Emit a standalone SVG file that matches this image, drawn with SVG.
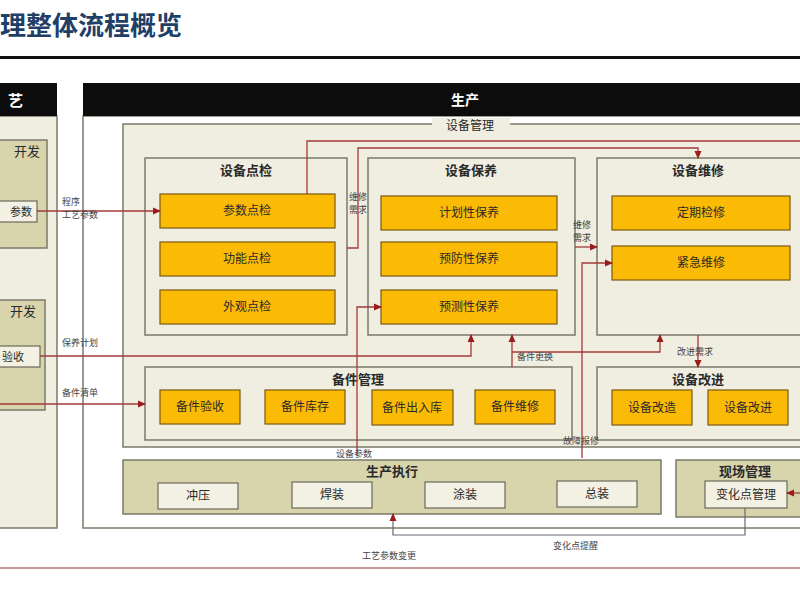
<svg xmlns="http://www.w3.org/2000/svg" width="800" height="600" viewBox="0 0 800 600">
<defs>
<marker id="ah" markerWidth="8" markerHeight="8" refX="7" refY="4" orient="auto" markerUnits="userSpaceOnUse"><path d="M0,0.5 L8,4 L0,7.5 Z" fill="#9b1c1c"/></marker>
<style>
text{font-family:"Noto Sans CJK SC","Noto Sans",sans-serif;fill:#2a2a2a}
.box{fill:#f0eee0;stroke:#7a7a6a;stroke-width:1.5}
.olive{fill:#d8d5ad;stroke:#7a7a6a;stroke-width:1.5}
.item{fill:#fbbb05;stroke:#7a5a10;stroke-width:1.2}
.lite{fill:#f3f1e4;stroke:#6a6a5a;stroke-width:1.2}
.t{font-size:13px;text-anchor:middle;font-weight:bold}
.it{font-size:12px;text-anchor:middle}
.lb{font-size:9px;fill:#444}
.c{fill:none;stroke:#a33a3a;stroke-width:1.3}
.hdr{fill:#0c0c0c}
</style>
</defs>
<rect width="800" height="600" fill="#ffffff"/>
<text x="0" y="35" style="font-size:26px;fill:#1f3f66;font-weight:bold">理整体流程概览</text>
<rect x="0" y="56" width="800" height="3" fill="#111"/>

<g id="left">
<rect x="-5" y="116" width="62" height="412" class="box"/>
<rect x="-5" y="83" width="62" height="33" class="hdr"/>
<text x="8" y="106" style="font-size:15px;fill:#fff;font-weight:bold">艺</text>
<rect x="-5" y="140" width="52" height="108" class="olive"/>
<text x="14" y="156" style="font-size:13px">开发</text>
<rect x="-5" y="201" width="42" height="21" class="lite"/>
<text x="10" y="216" style="font-size:11px">参数</text>
<rect x="-5" y="300" width="50" height="110" class="olive"/>
<text x="10" y="316" style="font-size:13px">开发</text>
<rect x="-5" y="346" width="45" height="21" class="lite"/>
<text x="2" y="361" style="font-size:11px">验收</text>
</g>

<g id="production">
<rect x="83" y="116" width="722" height="412" fill="#ffffff" stroke="#7a7a6a" stroke-width="1.5"/>
<rect x="83" y="83" width="722" height="33" class="hdr"/>
<text x="465" y="105" style="font-size:14px;fill:#fff;font-weight:bold;text-anchor:middle">生产</text>
</g>

<g id="equip-mgmt">
<rect x="123" y="124" width="682" height="323" class="box"/>
<rect x="432" y="118" width="78" height="14" fill="#f0eee0"/>
<text x="470" y="130" style="font-size:12px;text-anchor:middle">设备管理</text>
</g>

<g id="inspect">
<rect x="145" y="158" width="202" height="177" class="box"/>
<text x="246" y="175" class="t">设备点检</text>
<rect x="160" y="194" width="175" height="34" class="item"/><text x="247" y="215" class="it">参数点检</text>
<rect x="160" y="242" width="175" height="34" class="item"/><text x="247" y="263" class="it">功能点检</text>
<rect x="160" y="290" width="175" height="34" class="item"/><text x="247" y="311" class="it">外观点检</text>
</g>

<g id="maintain">
<rect x="368" y="158" width="207" height="177" class="box"/>
<text x="471" y="175" class="t">设备保养</text>
<rect x="381" y="196" width="176" height="34" class="item"/><text x="469" y="217" class="it">计划性保养</text>
<rect x="381" y="242" width="176" height="34" class="item"/><text x="469" y="263" class="it">预防性保养</text>
<rect x="381" y="290" width="176" height="34" class="item"/><text x="469" y="311" class="it">预测性保养</text>
</g>

<g id="repair">
<rect x="597" y="158" width="208" height="177" class="box"/>
<text x="698" y="175" class="t">设备维修</text>
<rect x="612" y="196" width="178" height="34" class="item"/><text x="701" y="217" class="it">定期检修</text>
<rect x="612" y="246" width="178" height="34" class="item"/><text x="701" y="267" class="it">紧急维修</text>
</g>

<g id="spares">
<rect x="145" y="367" width="427" height="73" class="box"/>
<text x="358" y="384" class="t">备件管理</text>
<rect x="160" y="390" width="80" height="34" class="item"/><text x="200" y="411" class="it">备件验收</text>
<rect x="265" y="390" width="80" height="34" class="item"/><text x="305" y="411" class="it">备件库存</text>
<rect x="372" y="390" width="81" height="35" class="item"/><text x="412" y="412" class="it">备件出入库</text>
<rect x="475" y="390" width="80" height="34" class="item"/><text x="515" y="411" class="it">备件维修</text>
</g>

<g id="improve">
<rect x="597" y="367" width="208" height="73" class="box"/>
<text x="698" y="384" class="t">设备改进</text>
<rect x="612" y="390" width="80" height="35" class="item"/><text x="652" y="412" class="it">设备改造</text>
<rect x="708" y="390" width="80" height="35" class="item"/><text x="748" y="412" class="it">设备改进</text>
</g>

<g id="exec">
<rect x="123" y="460" width="538" height="54" class="olive"/>
<text x="392" y="476" class="t">生产执行</text>
<rect x="158" y="483" width="80" height="26" class="lite"/><text x="198" y="500" class="it">冲压</text>
<rect x="292" y="482" width="80" height="26" class="lite"/><text x="332" y="499" class="it">焊装</text>
<rect x="425" y="482" width="80" height="26" class="lite"/><text x="465" y="499" class="it">涂装</text>
<rect x="557" y="481" width="80" height="26" class="lite"/><text x="597" y="498" class="it">总装</text>
</g>

<g id="site">
<rect x="676" y="460" width="129" height="57" class="olive"/>
<text x="745" y="476" class="t">现场管理</text>
<rect x="705" y="481" width="82" height="27" class="lite"/><text x="746" y="499" class="it">变化点管理</text>
</g>

<g id="connectors">
<path class="c" d="M37,211 H160" marker-end="url(#ah)"/>
<path class="c" d="M307,194 V141 H805"/>
<path class="c" d="M347,248 H358 V148 H698 V158" marker-end="url(#ah)"/>
<path class="c" d="M575,247 H597" marker-end="url(#ah)"/>
<path class="c" d="M582,458 V263 H612" marker-end="url(#ah)"/>
<path class="c" d="M357,456 V307 H381" marker-end="url(#ah)"/>
<path class="c" d="M40,356 H471 V335" marker-end="url(#ah)"/>
<path class="c" d="M0,404 H145" marker-end="url(#ah)"/>
<path class="c" d="M512,367 V335" marker-end="url(#ah)"/>
<path class="c" d="M512,352 H660 V335" marker-end="url(#ah)"/>
<path class="c" d="M698,335 V367" marker-end="url(#ah)"/>
<path class="c" d="M805,493 H787" marker-end="url(#ah)"/>
<path d="M745,508 V535 H393 V514" fill="none" stroke="#6a6a6a" stroke-width="1.2" marker-end="url(#ah)"/>
<path d="M0,568 H800" stroke="#c49a9a" stroke-width="2"/>
<text x="62" y="205" class="lb">程序</text>
<text x="62" y="218" class="lb">工艺参数</text>
<text x="349" y="200" class="lb">维修</text>
<text x="349" y="213" class="lb">需求</text>
<text x="573" y="228" class="lb">维修</text>
<text x="573" y="241" class="lb">需求</text>
<text x="62" y="346" class="lb">保养计划</text>
<text x="62" y="396" class="lb">备件清单</text>
<text x="517" y="360" class="lb">备件更换</text>
<text x="677" y="355" class="lb">改进需求</text>
<text x="563" y="444" class="lb">故障报修</text>
<text x="336" y="457" class="lb">设备参数</text>
<text x="553" y="549" class="lb">变化点提醒</text>
<text x="362" y="559" class="lb">工艺参数变更</text>
</g>
</svg>
